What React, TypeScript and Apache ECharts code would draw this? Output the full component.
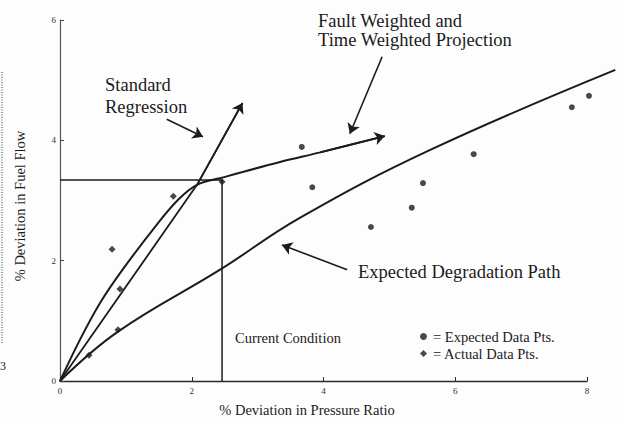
import React, { useEffect, useRef } from "react";
import * as echarts from "echarts";

// ---- data ----
const xTicks = [0, 2, 4, 6, 8];
const yTicks = [0, 2, 4, 6];

const expectedPath: number[][] = [
  [0, 0], [0.88, 0.82], [2.43, 1.85], [3.64, 2.71], [5.62, 3.84], [8.43, 5.17],
];
const standardRegression: number[][] = [[0, 0], [2.08, 3.26], [2.77, 4.62]];
const faultWeighted: number[][] = [
  [0, 0], [0.3, 0.68], [0.61, 1.3], [0.95, 1.85], [1.47, 2.6], [1.8, 3.02],
  [2.08, 3.26], [2.46, 3.38], [3.34, 3.64], [3.95, 3.8], [4.93, 4.07],
];
const currentCondition: number[][] = [[0, 3.34], [2.46, 3.34], [2.46, 0]];
const actualPts: number[][] = [
  [0.44, 0.43], [0.88, 0.85], [0.91, 1.53], [0.79, 2.19], [1.72, 3.07], [2.46, 3.31],
];
const expectedPts: number[][] = [
  [3.67, 3.89], [3.83, 3.22], [4.72, 2.56], [5.34, 2.88], [5.51, 3.29],
  [6.28, 3.77], [7.77, 4.55], [8.03, 4.74],
];
// annotation pointer arrows: [from, to] in data units
const pointerArrows: number[][][] = [
  [[1.62, 4.35], [2.17, 4.06]],
  [[4.89, 5.39], [4.4, 4.11]],
  [[4.36, 1.85], [3.37, 2.26]],
];

const INK = "#1b1b1b";
const SERIF = '"Liberation Serif", "DejaVu Serif", serif';

// plot geometry (px)
const LEFT = 60, TOP = 20, WIDTH = 527, HEIGHT = 361;
const X_EXT = 8.5; // extended x range for the path that runs past the axis end

const arrowEnd = (pts: number[][]) => {
  const a = pts[pts.length - 2];
  const b = pts[pts.length - 1];
  return [[{ coord: a }, { coord: b }]];
};

const markArrow = (segments: any[]) => ({
  silent: true,
  symbol: ["none", "arrow"],
  symbolSize: 10,
  label: { show: false },
  emphasis: { disabled: true },
  lineStyle: { type: "solid", color: INK, width: 1.6 },
  data: segments,
});

export default function App() {
  const ref = useRef<HTMLDivElement>(null);
  useEffect(() => {
    if (!ref.current) return;
    const chart = echarts.init(ref.current, null, { renderer: "svg" });
    const text = (t: string, x: number, y: number, size: number, extra: any = {}) => ({
      type: "text",
      x,
      y,
      silent: true,
      ...extra,
      style: {
        text: t,
        fill: INK,
        font: `${size}px ${SERIF}`,
        align: extra.align || "left",
        verticalAlign: "middle",
        lineHeight: extra.lineHeight,
      },
    });
    const xMax = xTicks[xTicks.length - 1];
    const extWidth = (WIDTH * X_EXT) / xMax;
    chart.setOption({
      animation: false,
      backgroundColor: "#fdfdfd",
      grid: [
        { left: LEFT, top: TOP, width: WIDTH, height: HEIGHT },
        { left: LEFT, top: TOP, width: extWidth, height: HEIGHT },
      ],
      xAxis: [
        {
          type: "value",
          gridIndex: 0,
          min: xTicks[0],
          max: xMax,
          interval: 2,
          splitLine: { show: false },
          axisLine: { lineStyle: { color: "#2a2a2a", width: 1.4 } },
          axisTick: { inside: true, length: 4, lineStyle: { color: "#2a2a2a" } },
          axisLabel: { margin: 5, fontSize: 9, color: "#333", fontFamily: SERIF },
        },
        { type: "value", gridIndex: 1, min: 0, max: X_EXT, show: false },
      ],
      yAxis: [
        {
          type: "value",
          gridIndex: 0,
          min: yTicks[0],
          max: yTicks[yTicks.length - 1],
          interval: 2,
          splitLine: { show: false },
          axisLine: { lineStyle: { color: "#555", width: 1.2 } },
          axisTick: { inside: true, length: 4, lineStyle: { color: "#444" } },
          axisLabel: { margin: 4, fontSize: 9, color: "#333", fontFamily: SERIF },
        },
        {
          type: "value",
          gridIndex: 1,
          min: yTicks[0],
          max: yTicks[yTicks.length - 1],
          show: false,
        },
      ],
      legend: {
        left: 415,
        top: 324,
        orient: "vertical",
        itemWidth: 7,
        itemHeight: 7,
        itemGap: 2,
        selectedMode: false,
        data: ["Expected Data Pts.", "Actual Data Pts."],
        formatter: (n: string) => "= " + n,
        textStyle: { fontFamily: SERIF, fontSize: 14.5, color: INK, padding: [0, 0, 0, 1] },
      },
      series: [
        {
          name: "Expected Degradation Path",
          type: "line",
          xAxisIndex: 1,
          yAxisIndex: 1,
          data: expectedPath,
          smooth: 0.4,
          showSymbol: false,
          silent: true,
          lineStyle: { color: INK, width: 2 },
        },
        {
          name: "Standard Regression",
          type: "line",
          data: standardRegression,
          showSymbol: false,
          silent: true,
          lineStyle: { color: INK, width: 1.8 },
          markLine: markArrow(arrowEnd(standardRegression)),
        },
        {
          name: "Fault Weighted and Time Weighted Projection",
          type: "line",
          data: faultWeighted,
          smooth: 0.35,
          showSymbol: false,
          silent: true,
          lineStyle: { color: INK, width: 2 },
          markLine: markArrow(arrowEnd(faultWeighted)),
        },
        {
          name: "Current Condition",
          type: "line",
          data: currentCondition,
          showSymbol: false,
          silent: true,
          lineStyle: { color: INK, width: 1.5 },
          markLine: markArrow(pointerArrows.map((s) => [{ coord: s[0] }, { coord: s[1] }])),
        },
        {
          name: "Expected Data Pts.",
          type: "scatter",
          data: expectedPts,
          symbol: "circle",
          symbolSize: 6,
          clip: false,
          silent: true,
          itemStyle: { color: INK },
        },
        {
          name: "Actual Data Pts.",
          type: "scatter",
          data: actualPts,
          symbol: "diamond",
          symbolSize: 7,
          clip: false,
          silent: true,
          itemStyle: { color: INK },
        },
      ],
      graphic: [
        text("Standard\nRegression", 105, 96, 18.5, { lineHeight: 22 }),
        text("Fault Weighted and\nTime Weighted Projection", 318, 30, 18.5, { lineHeight: 19 }),
        text("Expected Degradation Path", 358, 272, 18.5),
        text("Current Condition", 235, 338, 14.5),
        text("% Deviation in Pressure Ratio", 307, 410, 14.5, { align: "center" }),
        text("% Deviation in Fuel Flow", 20, 206, 14.5, { align: "center", rotation: Math.PI / 2 }),
        {
          type: "line",
          silent: true,
          shape: { x1: 2, y1: 72, x2: 2, y2: 343 },
          style: { stroke: "#777", lineWidth: 1.5, lineDash: [1, 1.5] },
        },
        text("3", 0, 366, 12),
      ],
    });
    return () => chart.dispose();
  }, []);
  return (
    <div
      ref={ref}
      style={{ position: "fixed", left: 0, top: 0, width: 624, height: 422 }}
    />
  );
}
